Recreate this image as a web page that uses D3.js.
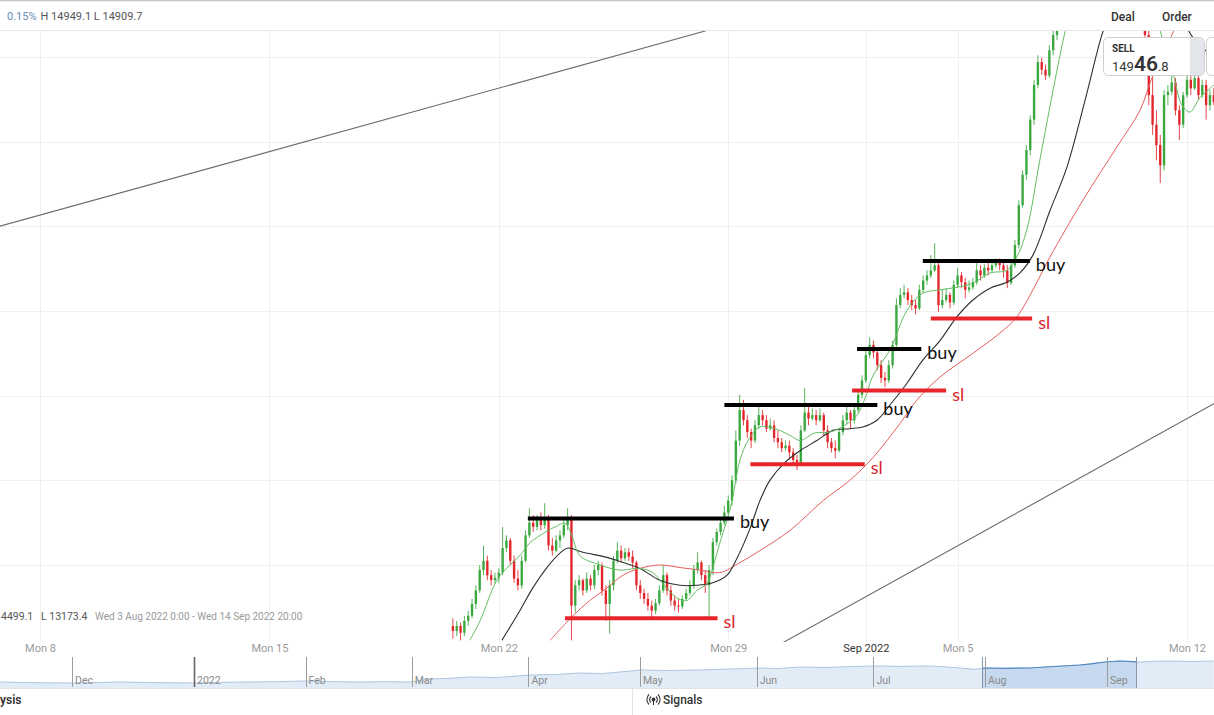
<!DOCTYPE html>
<html><head><meta charset="utf-8">
<script src="https://cdn.jsdelivr.net/npm/d3@7"></script>
<style>
html,body{margin:0;padding:0;background:#fff;overflow:hidden}
svg{display:block;font-family:Roboto,"Open Sans",sans-serif}
</style></head><body>
<svg id="c" width="1214" height="715"></svg>
<script>
// ---- candle data (2-hour bars, index 0 = Fri 19 Aug 00:00) ----
const opens=[14328,14322,14328,14320,14334,14340,14354,14370,14394,14405,
14388,14382,14385,14391,14420,14429,14405,14384,14376,14405,
14435,14450,14445,14453,14447,14455,14423,14417,14429,14435,
14447,14453,14352,14376,14382,14370,14384,14376,14394,14400,
14370,14354,14376,14405,14417,14408,14415,14410,14403,14376,
14367,14360,14352,14346,14355,14370,14388,14370,14358,14352,
14351,14360,14367,14376,14394,14403,14388,14376,14394,14427,
14439,14450,14462,14476,14500,14547,14583,14571,14557,14547,
14565,14577,14571,14561,14565,14550,14545,14538,14541,14533,
14524,14521,14559,14580,14573,14577,14571,14577,14559,14545,
14538,14535,14557,14571,14580,14571,14583,14601,14618,14648,
14660,14651,14636,14621,14618,14636,14660,14707,14719,14722,
14713,14707,14703,14725,14736,14742,14748,14754,14707,14713,
14719,14710,14731,14742,14734,14725,14728,14734,14748,14742,
14751,14748,14754,14758,14754,14748,14733,14754,14778,14825,
14861,14890,14926,14967,14994,14985,14978,15008,15026,15044,
15055,15067,15079,15091,15085,15103,15115,15109,15127,15138,
15132,15150,15144,15156,15138,15127,15132,15115,15103,15091,
15073,15061,15026,14955,14920,14896,14872,14955,14959,14970,
14937,14920,14955,14973,14963,14975,14955,14967,14943,14955];
const highs=[14337,14334,14332,14340,14346,14360,14376,14400,14423,14411,
14394,14391,14396,14445,14435,14432,14411,14394,14411,14441,
14467,14459,14459,14462,14473,14459,14432,14435,14441,14453,
14467,14459,14382,14388,14384,14391,14388,14400,14405,14403,
14376,14382,14411,14427,14423,14420,14420,14417,14405,14382,
14372,14367,14358,14360,14376,14400,14391,14376,14364,14360,
14364,14372,14382,14400,14415,14405,14394,14400,14432,14443,
14455,14470,14482,14506,14559,14601,14595,14577,14561,14571,
14589,14583,14577,14573,14571,14559,14550,14547,14547,14538,
14530,14565,14609,14589,14585,14583,14585,14580,14565,14550,
14547,14561,14577,14589,14583,14589,14606,14624,14654,14669,
14665,14656,14642,14628,14642,14665,14715,14727,14731,14727,
14719,14713,14731,14742,14748,14766,14780,14758,14725,14727,
14722,14736,14751,14746,14739,14736,14739,14758,14754,14755,
14758,14760,14762,14762,14758,14754,14760,14784,14831,14866,
14896,14931,14973,15002,14999,14991,15014,15038,15055,15067,
15073,15091,15097,15097,15109,15121,15121,15132,15144,15141,
15156,15152,15162,15160,15144,15138,15136,15121,15109,15097,
15079,15073,15034,14996,14937,14908,14961,14967,14979,14975,
14943,14959,14985,14979,14982,14979,14973,14973,14961,14963];
const lows=[14313,14316,14311,14316,14328,14337,14348,14367,14388,14382,
14376,14378,14379,14388,14415,14400,14379,14370,14372,14403,
14432,14439,14441,14441,14443,14417,14411,14415,14420,14432,
14441,14311,14344,14370,14364,14367,14370,14372,14388,14364,
14334,14319,14370,14402,14403,14405,14405,14396,14370,14360,
14354,14346,14338,14342,14352,14367,14364,14352,14346,14344,
14348,14358,14364,14372,14390,14382,14367,14337,14388,14423,
14435,14447,14455,14470,14496,14541,14565,14550,14538,14544,
14561,14565,14557,14559,14545,14538,14533,14535,14526,14518,
14512,14518,14557,14565,14571,14565,14569,14553,14538,14533,
14526,14533,14553,14567,14561,14567,14580,14597,14615,14644,
14644,14630,14615,14610,14615,14632,14656,14703,14715,14707,
14701,14696,14701,14721,14731,14739,14746,14699,14703,14710,
14703,14707,14727,14727,14715,14722,14725,14731,14736,14739,
14742,14746,14751,14748,14739,14727,14731,14751,14774,14822,
14855,14884,14920,14963,14979,14973,14975,15002,15020,15038,
15049,15061,15073,15077,15082,15097,15101,15103,15121,15124,
15127,15136,15138,15132,15121,15121,15109,15097,15085,15067,
15044,15014,14943,14908,14878,14851,14866,14943,14955,14931,
14902,14916,14952,14955,14961,14949,14952,14926,14937,14943];
const closes=[14322,14328,14320,14334,14340,14354,14370,14394,14405,14388,
14382,14385,14391,14420,14429,14405,14384,14376,14405,14435,
14450,14445,14453,14447,14455,14423,14417,14429,14435,14447,
14453,14352,14376,14382,14370,14384,14376,14394,14400,14370,
14354,14376,14405,14417,14408,14415,14410,14403,14376,14367,
14360,14352,14346,14355,14370,14388,14370,14358,14352,14351,
14360,14367,14376,14394,14403,14388,14376,14394,14427,14439,
14450,14462,14476,14500,14547,14583,14571,14557,14547,14565,
14577,14571,14561,14565,14550,14545,14538,14541,14533,14524,
14521,14559,14580,14573,14577,14571,14577,14559,14545,14538,
14535,14557,14571,14580,14571,14583,14601,14618,14648,14660,
14651,14636,14621,14618,14636,14660,14707,14719,14722,14713,
14707,14703,14725,14736,14742,14748,14754,14707,14713,14719,
14710,14731,14742,14734,14725,14728,14734,14748,14742,14751,
14748,14754,14758,14754,14748,14733,14754,14778,14825,14861,
14890,14926,14967,14994,14985,14978,15008,15026,15044,15055,
15067,15079,15091,15085,15103,15115,15109,15127,15138,15132,
15150,15144,15156,15138,15127,15132,15115,15103,15091,15073,
15061,15026,14955,14920,14896,14872,14955,14959,14970,14937,
14920,14955,14973,14963,14975,14955,14967,14943,14955,14947];

// ---- moving averages ----
const fastIdx=[4.4,7.1,11.5,14.9,17.5,20.1,22.8,26.7,29.3,31.1,33.2,38.5,43.7,48.9,52.3,54.9,58.6,61.2,63.8,66.4,68,69.8,71.7,73,75.1,77.2,80.3,84.2,88.2,90.8,94.7,98.6,102.5,105.7,107.8,109.9,114.3,118.8,122.9,127.4,131.8,136,140.5,144.9,147.5,150.1,153.5,157.5,160.1,164,169,174.5,179.7,184.9,188.1,190.7,192.8,195.4,199.1];
const fastVals=[14311,14334,14382,14400,14411,14426,14435,14445,14449,14435,14411,14400,14394,14396,14391,14378,14361,14358,14370,14378,14397,14426,14453,14476,14524,14547,14563,14561,14553,14547,14556,14557,14565,14577,14597,14624,14654,14701,14721,14725,14728,14733,14745,14748,14764,14796,14878,14973,15030,15103,15138,15150,15114,15032,14985,14943,14935,14952,14967];
const midIdx=[12.8,17.5,20.9,24.6,28,30.1,34,40.3,44.5,48.9,54.1,59.4,63.8,68,71.7,74.3,77.7,80.3,82.9,86.8,90.8,95.2,99.4,103.8,107.2,110.9,114.3,118.8,122.9,127.4,131.8,136,140.5,144.9,148.3,151.7,156.2,160.6,165.8,170,177.1,184.9,190.2,192.8,197.2,199.1];
const midVals=[14311,14346,14373,14397,14414,14420,14415,14409,14403,14396,14382,14376,14376,14379,14388,14408,14443,14476,14500,14521,14535,14547,14559,14561,14563,14571,14589,14615,14642,14665,14693,14713,14727,14734,14745,14766,14819,14870,14957,15030,15114,15103,15067,15028,15006,14999];
const slowIdx=[25.4,31.4,35.8,40.3,44.5,48.9,54.1,59.4,64.6,69.8,75.1,80.3,88.2,96.8,103.8,109.9,116.9,121.4,127.4,136,143.1,147.5,151.7,156.2,164.8,173.7,179.7,182.8,186.2,190.2,199.1];
const slowVals=[14311,14340,14358,14373,14388,14396,14400,14397,14394,14391,14403,14417,14441,14476,14500,14527,14567,14595,14622,14650,14674,14693,14725,14764,14831,14894,14937,14975,15008,15044,15091];

// ---- drawn annotations ----
const buyStart=[19.6,71,105.7,122.9], buyEnd=[73.5,111,122.5,150.9], buyLevel=[14455,14589,14655,14759];
const slStart=[29.3,77.8,104.4,125], slEnd=[69.2,107.7,129,151.5], slLevel=[14337,14519,14606,14691];
const trendAIdx=[-125,66.2], trendAVals=[14792,15031];
const trendBIdx=[85,202], trendBVals=[14305,14598];

// ---- axis ticks ----
const dayTickIdx=[-108,-48,12,72,108,132,192];
const dayTickLabels=["Mon 8","Mon 15","Mon 22","Mon 29","Sep 2022","Mon 5","Mon 12"];
const priceGrid=[14400,14500,14600,14700,14800,14900,15000];

// ---- navigator ----
const navIdx=[-14,-6,0,5,9,15,22.8,28,33.5,39,43.9,49,54.3,59,63.7,67.4,71,75,80,86.3,91,95.7,100,103.2,107.2,112,118.3,124,129.4,133,137.2,142,147,151.3,156,161.6,165,167.3,170.1,172,176,180.5,185,189.9,192,194.6,197.4,201.2,204,206.9,211,215.1];
const navVals=[12520,12430,12400,12460,12520,12450,12400,12480,12520,12560,12640,12560,12520,12560,12520,12880,12960,13120,13050,13360,13420,13600,13540,13720,13960,13900,13960,14080,14200,14140,14320,14260,14380,14440,14400,14440,14320,14200,14040,14200,14160,14200,14380,14560,14700,14920,15040,14920,15000,15040,14980,15040];
const navTickIdx=[0,23,44,64,86,107,129,151,172,195];
const navTickLabels=["Dec","2022","Feb","Mar","Apr","May","Jun","Jul","Aug","Sep"];
const navSel=[171.6,200.6];

const GREEN="#3aa83f", RED="#e2262b";
const svg=d3.select("#c");
const x=d3.scaleLinear().domain([-108,192]).range([40,1187]);
const y=d3.scaleLinear().domain([14400,15000]).range([565,57]);
const PT=31, PB=642;

svg.append("defs").append("clipPath").attr("id","plot")
  .append("rect").attr("x",0).attr("y",PT).attr("width",1214).attr("height",PB-PT);

// grid
const grid=svg.append("g");
grid.selectAll(".hg").data(priceGrid).join("line")
  .attr("x1",0).attr("x2",1214).attr("y1",d=>Math.round(y(d))+0.5).attr("y2",d=>Math.round(y(d))+0.5)
  .attr("stroke","#efefef");
grid.selectAll(".vg").data(dayTickIdx).join("line")
  .attr("x1",d=>Math.round(x(d))+0.5).attr("x2",d=>Math.round(x(d))+0.5).attr("y1",PT).attr("y2",PB)
  .attr("stroke","#efefef");

const plot=svg.append("g").attr("clip-path","url(#plot)");

// trend lines
const pl=d3.line().x(d=>x(d[0])).y(d=>y(d[1]));
plot.append("path").attr("d",pl(d3.zip(trendAIdx,trendAVals))).attr("fill","none").attr("stroke","#6a6a6a").attr("stroke-width",1.1);
plot.append("path").attr("d",pl(d3.zip(trendBIdx,trendBVals))).attr("fill","none").attr("stroke","#6a6a6a").attr("stroke-width",1.1);

// candles
const idx=d3.range(opens.length);
const bw=(x(1)-x(0))*0.62;
const col=i=>closes[i]>=opens[i]?GREEN:RED;
plot.selectAll(".wick").data(idx).join("line")
  .attr("x1",i=>x(i)).attr("x2",i=>x(i))
  .attr("y1",i=>y(highs[i])).attr("y2",i=>y(lows[i]))
  .attr("stroke",col).attr("stroke-width",1).attr("stroke-opacity",0.85);
plot.selectAll(".body").data(idx).join("rect")
  .attr("x",i=>x(i)-bw/2).attr("width",bw)
  .attr("y",i=>y(Math.max(opens[i],closes[i])))
  .attr("height",i=>Math.max(1,Math.abs(y(opens[i])-y(closes[i]))))
  .attr("fill",col);

// moving averages
const ml=d3.line().x(d=>x(d[0])).y(d=>y(d[1])).curve(d3.curveCatmullRom);
plot.append("path").attr("d",ml(d3.zip(slowIdx,slowVals))).attr("fill","none").attr("stroke","#e4605f").attr("stroke-width",1);
plot.append("path").attr("d",ml(d3.zip(midIdx,midVals))).attr("fill","none").attr("stroke","#2f2f2f").attr("stroke-width",1.1);
plot.append("path").attr("d",ml(d3.zip(fastIdx,fastVals))).attr("fill","none").attr("stroke","#63bd63").attr("stroke-width",1);

// annotations
const ann=svg.append("g");
function levels(st,en,lv,color,label,tcol){
  ann.selectAll(null).data(lv).join("line")
    .attr("x1",(d,i)=>x(st[i])).attr("x2",(d,i)=>x(en[i]))
    .attr("y1",d=>y(d)).attr("y2",d=>y(d))
    .attr("stroke",color).attr("stroke-width",4);
  ann.selectAll(null).data(lv).join("text")
    .attr("x",(d,i)=>x(en[i])+6).attr("y",d=>y(d)+3)
    .attr("dominant-baseline","central")
    .attr("font-family","Lato, 'Open Sans', sans-serif").attr("font-size",18)
    .attr("fill",tcol).text(label);
}
levels(buyStart,buyEnd,buyLevel,"#000","buy","#111");
levels(slStart,slEnd,slLevel,"#e8242b","sl","#d9262c");

// overlay range text (left part cut by the window in the original)
svg.append("text").attr("x",1).attr("y",620).attr("font-size",10.5).attr("fill","#555").text("4499.1");
svg.append("text").attr("x",41).attr("y",620).attr("font-size",10.5).attr("fill","#555").text("L 13173.4");
svg.append("text").attr("x",95).attr("y",620).attr("font-size",10).attr("fill","#9a9a9a").text("Wed 3 Aug 2022 0:00 - Wed 14 Sep 2022 20:00");

// x axis
const ax=d3.axisBottom(x).tickValues(dayTickIdx).tickFormat((d,i)=>dayTickLabels[i]).tickSize(0).tickPadding(0);
const axg=svg.append("g").attr("transform","translate(0,644)").call(ax);
axg.select(".domain").remove();
axg.selectAll("text").attr("font-family","Roboto, sans-serif").attr("font-size",11)
  .attr("fill",(d,i)=>dayTickLabels[i]==="Sep 2022"?"#333":"#9a9a9a");

// navigator
const nx=d3.scaleLinear().domain([0,195]).range([72,1107]);
const ny=d3.scaleLinear().domain([11800,15520]).range([688,657]);
const nav=svg.append("g");
const navData=d3.zip(navIdx,navVals);
const na=d3.area().x(d=>nx(d[0])).y0(688).y1(d=>ny(d[1]));
const nl=d3.line().x(d=>nx(d[0])).y(d=>ny(d[1]));
nav.append("path").attr("d",na(navData)).attr("fill","#e2ecf6");
nav.append("path").attr("d",nl(navData)).attr("fill","none").attr("stroke","#adc6df").attr("stroke-width",1);
const sd=svg.select("defs").append("clipPath").attr("id","sel");
sd.append("rect").attr("x",nx(navSel[0])).attr("y",650).attr("width",nx(navSel[1])-nx(navSel[0])).attr("height",40);
const ns=nav.append("g").attr("clip-path","url(#sel)");
ns.append("path").attr("d",na(navData)).attr("fill","#c6d9ee");
ns.append("path").attr("d",nl(navData)).attr("fill","none").attr("stroke","#4f86c2").attr("stroke-width",1.2);
nav.selectAll(".nt").data(navTickIdx).join("line")
  .attr("x1",d=>Math.round(nx(d))+0.5).attr("x2",d=>Math.round(nx(d))+0.5)
  .attr("y1",657).attr("y2",687)
  .attr("stroke",(d,i)=>navTickLabels[i]==="2022"?"#666":"#9c9c9c")
  .attr("stroke-width",(d,i)=>navTickLabels[i]==="2022"?1.6:1);
nav.selectAll(".nl").data(navTickIdx).join("text")
  .attr("x",d=>nx(d)+3).attr("y",684)
  .attr("font-size",10.5).attr("fill","#8a8a8a")
  .text((d,i)=>navTickLabels[i]);
nav.selectAll(".sh").data(navSel).join("line")
  .attr("x1",d=>Math.round(nx(d))-0.5).attr("x2",d=>Math.round(nx(d))-0.5)
  .attr("y1",657).attr("y2",688).attr("stroke","#8596aa").attr("stroke-width",1);
nav.append("line").attr("x1",0).attr("x2",1214).attr("y1",688.5).attr("y2",688.5).attr("stroke","#e2e2e2");

// bottom bar
svg.append("text").attr("x",0).attr("y",704).attr("font-size",12).attr("font-weight",600).attr("fill","#333").text("ysis");
svg.append("line").attr("x1",632.5).attr("x2",632.5).attr("y1",689).attr("y2",715).attr("stroke","#e3e3e3");
const sig=svg.append("g").attr("stroke","#333").attr("fill","none").attr("stroke-width",1.1);
sig.append("circle").attr("cx",653.5).attr("cy",699.5).attr("r",1.4).attr("fill","#333");
sig.append("path").attr("d","M651,696.5 A4,4 0 0 0 651,702.5 M656,696.5 A4,4 0 0 1 656,702.5 M649,694.5 A7,7 0 0 0 649,704.5 M658,694.5 A7,7 0 0 1 658,704.5");
sig.append("line").attr("x1",653.5).attr("x2",653.5).attr("y1",700).attr("y2",705);
svg.append("text").attr("x",663).attr("y",704).attr("font-size",12).attr("font-weight",500).attr("fill","#333").text("Signals");

// top bar
svg.append("rect").attr("x",0).attr("y",0).attr("width",1214).attr("height",30).attr("fill","#fff");
svg.append("line").attr("x1",0).attr("x2",1214).attr("y1",0.5).attr("y2",0.5).attr("stroke","#c4c4c4").attr("stroke-width",1.5);
svg.append("line").attr("x1",0).attr("x2",1214).attr("y1",30.5).attr("y2",30.5).attr("stroke","#e6e6e6");
const tt=svg.append("text").attr("x",7).attr("y",20).attr("font-size",11);
tt.append("tspan").attr("fill","#6a8db4").text("0.15%");
tt.append("tspan").attr("fill","#555").attr("dx",4).text("H 14949.1  L 14909.7");
svg.append("text").attr("x",1111).attr("y",21).attr("font-size",12).attr("font-weight",500).attr("fill","#333").text("Deal");
svg.append("text").attr("x",1162).attr("y",21).attr("font-size",12).attr("font-weight",500).attr("fill","#333").text("Order");

// sell box
const sb=svg.append("g");
sb.append("rect").attr("x",1206.5).attr("y",37.5).attr("width",30).attr("height",38).attr("rx",5).attr("fill","#fff").attr("stroke","#cfcfcf");
sb.append("rect").attr("x",1103.5).attr("y",37.5).attr("width",101).attr("height",38).attr("rx",5).attr("fill","#fff").attr("stroke","#cfcfcf");
sb.append("path").attr("d","M1190,38 H1199.5 A4.5,4.5 0 0 1 1204,42.5 V70.5 A4.5,4.5 0 0 1 1199.5,75 H1190 Z").attr("fill","#e2e6ea");
sb.append("text").attr("x",1112).attr("y",52).attr("font-size",10).attr("font-weight",700).attr("fill","#333").text("SELL");
const pv=sb.append("text").attr("x",1112).attr("y",71).attr("fill","#333");
pv.append("tspan").attr("font-size",13).text("149");
pv.append("tspan").attr("font-size",21).attr("font-weight",600).text("46");
pv.append("tspan").attr("font-size",13).text(".8");
</script>
</body></html>
